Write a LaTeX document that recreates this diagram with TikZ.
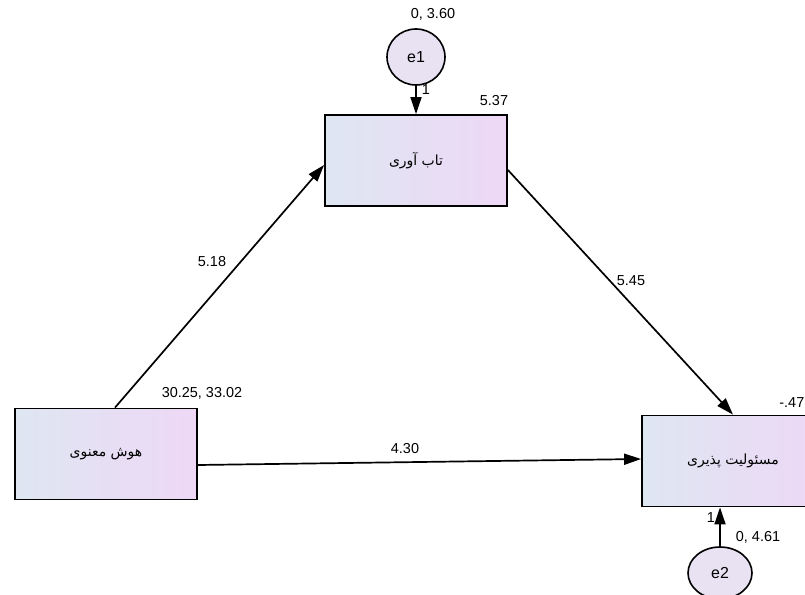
\documentclass[tikz,border=0pt]{standalone}
\usepackage{fontspec}
\setmainfont{Liberation Sans}
\newfontfamily\arabicfont[Script=Arabic]{DejaVu Sans}
\TeXXeTstate=1
\usetikzlibrary{arrows.meta,shapes.geometric,calc}
\definecolor{boxL}{RGB}{222,230,242}
\definecolor{boxR}{RGB}{238,216,246}
\definecolor{errF}{RGB}{232,226,242}
\begin{document}
\begin{tikzpicture}[x=1bp,y=-1bp,
  var/.style={draw=black, line width=1.8bp, left color=boxL, right color=boxR,
    minimum width=182bp, minimum height=91bp, inner sep=0pt,
    font=\arabicfont\fontsize{14}{16}\selectfont},
  err/.style={draw=black, line width=1.6bp, fill=errF, ellipse, inner sep=0pt,
    font=\fontsize{16}{18}\selectfont},
  num/.style={font=\fontsize{14.5}{16}\selectfont, inner sep=0pt},
  path/.style={draw=black, line width=1.7bp, -{Triangle[length=17bp,width=11bp]}}]
\useasboundingbox (0,0) rectangle (805,595);
\clip (0,0) rectangle (805,595);
\fill[white] (0,0) rectangle (805,595);
% variables
\node[var] (tab) at (416,160.5) {\beginR تاب آوری\endR};
\node[var] (hoosh) at (106,454) {\beginR هوش معنوی\endR};
\node[var] (mas) at (733,461) {\beginR مسئولیت پذیری\endR};
\node[err, minimum width=58bp, minimum height=56bp] (e1) at (416,57) {e1};
\node[err, minimum width=64bp, minimum height=52bp] (e2) at (720,573) {e2};
% paths
\draw[path] (e1) -- (tab);
\draw[path] (e2.north) -- (e2.north |- mas.south);
\draw[path] ($(hoosh.north)+(9,0)$) -- ($(tab.west)+(0,4.5)$);
\draw[path] ($(tab.east)+(0,9.5)$) -- (mas.north);
\draw[path] ($(hoosh.east)+(0,11)$) -- ($(mas.west)+(0,-2)$);
% labels
\node[num] (v1) at (433,14) {0, 3.60};
\node[num] (w1) at (426,90) {1};
\node[num] (t1) at (494,101) {5.37};
\node[num] (h1) at (202,393) {30.25, 33.02};
\node[num, anchor=east] (m1) at (804.5,403) {-.47};
\node[num] (v2) at (758,537) {0, 4.61};
\node[num] (w2) at (711,518) {1};
\node[num] (p1) at (212,262) {5.18};
\node[num] (p2) at (631,281) {5.45};
\node[num] (p3) at (405,449) {4.30};
\end{tikzpicture}
\end{document}
